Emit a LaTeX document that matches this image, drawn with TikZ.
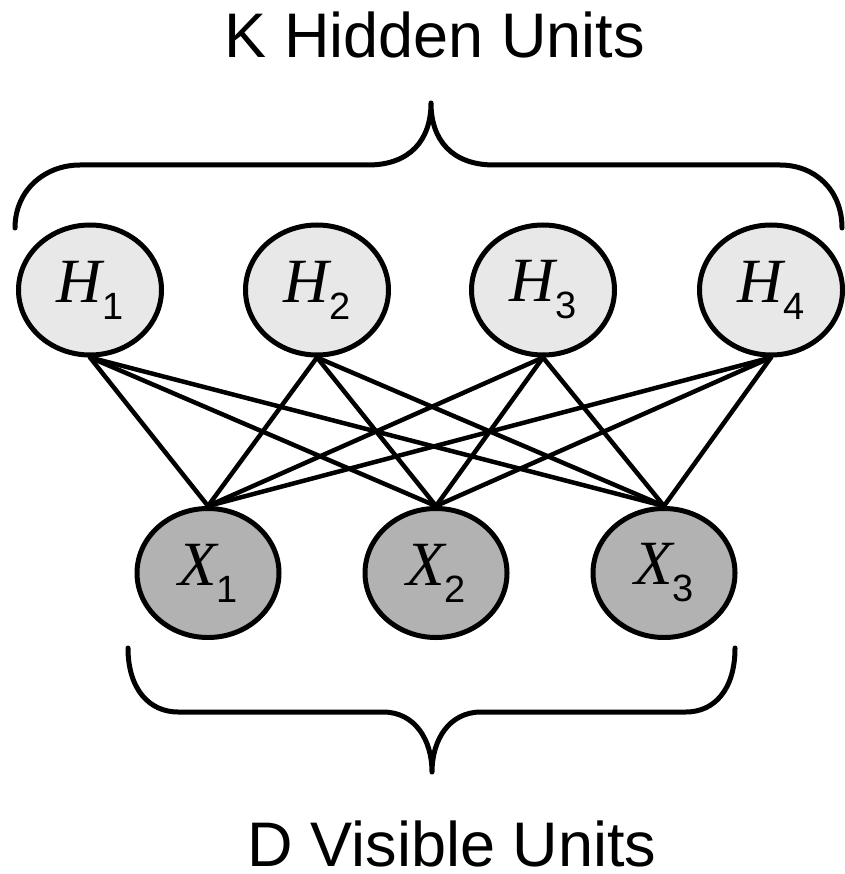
\documentclass[tikz,border=0pt]{standalone}
\usepackage{fontspec}
\setmainfont{Liberation Sans}
\newfontfamily\romanfont{Liberation Serif}
\usetikzlibrary{shapes.geometric}

\newcommand{\unitlabel}[2]{{\romanfont\itshape #1}\raisebox{-17pt}{\fontsize{38}{38}\selectfont #2}}

\tikzset{
	hidden/.style={ellipse, draw=black, line width=5pt, fill=black!9, minimum width=143pt, minimum height=130pt, inner sep=0pt, font=\fontsize{63}{63}\selectfont},
	visible/.style={ellipse, draw=black, line width=5pt, fill=black!30, minimum width=142pt, minimum height=129pt, inner sep=0pt, font=\fontsize{63}{63}\selectfont},
	link/.style={line width=4.5pt},
	brace/.style={line width=5pt},
	title/.style={anchor=base, inner sep=0pt, text depth=0pt, font=\fontsize{63}{63}\selectfont}
}

\begin{document}
\begin{tikzpicture}[x=1pt, y=-1pt, line cap=round, line join=round]
	\useasboundingbox (0,0) rectangle (844,874);

	%Hidden Units
	\node[hidden] (h1) at (90,290) {\unitlabel{H}{1}};
	\node[hidden] (h2) at (317,290) {\unitlabel{H}{2}};
	\node[hidden] (h3) at (543,290) {\unitlabel{H}{3}};
	\node[hidden] (h4) at (771,290) {\unitlabel{H}{4}};

	%Visible Units
	\node[visible] (x1) at (208,573) {\unitlabel{X}{1}};
	\node[visible] (x2) at (436,573) {\unitlabel{X}{2}};
	\node[visible] (x3) at (664,573) {\unitlabel{X}{3}};

	%Links
	\foreach \h in {1,...,4}
		\foreach \x in {1,...,3}
			\draw[link] (h\h.south) -- (x\x.north);

	%Braces
	\draw[brace] (15,228) .. controls (15,190) and (45,165) .. (80,165) -- (368,165)
		.. controls (410,165) and (431,140) .. (431,103)
		.. controls (431,140) and (452,165) .. (494,165) -- (780,165)
		.. controls (815,165) and (842,190) .. (842,228);
	\draw[brace] (128,648) .. controls (128,690) and (150,712) .. (178,712) -- (383,712)
		.. controls (415,712) and (432,740) .. (432,772)
		.. controls (432,740) and (449,712) .. (481,712) -- (686,712)
		.. controls (714,712) and (735,690) .. (735,648);

	%Labels
	\node[title] (ktext) at (435,58) {K Hidden Units};
	\node[title] (dtext) at (452,866) {D Visible Units};
\end{tikzpicture}
\end{document}
